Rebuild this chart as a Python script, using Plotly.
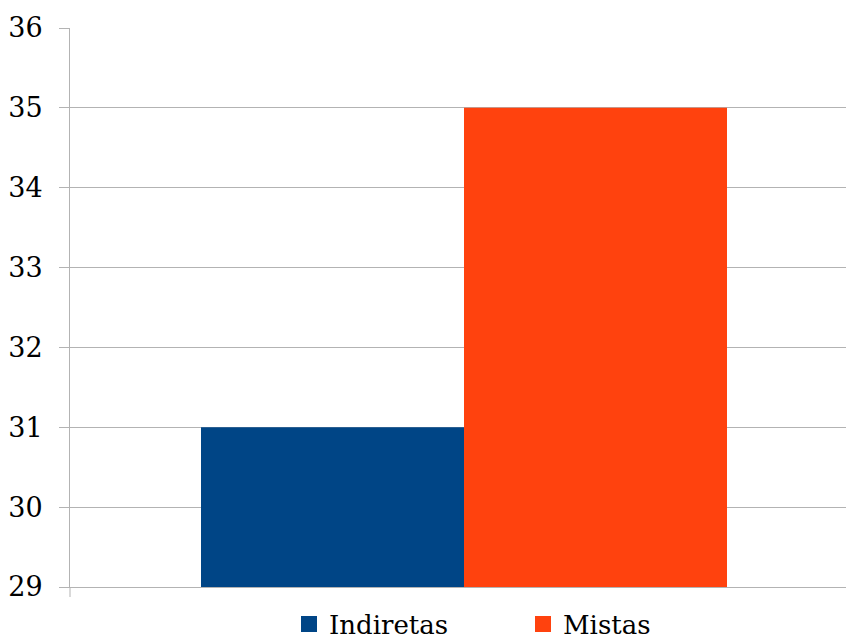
import plotly.graph_objects as go

categories = [""]
series_names = ["Indiretas", "Mistas"]
series_values = [[31], [35]]
colors = ["#004586", "#FF420E"]
y_ticks = [29, 30, 31, 32, 33, 34, 35, 36]

FONT = "DejaVu Serif"

fig = go.Figure()
for name, vals, c in zip(series_names, series_values, colors):
    fig.add_trace(go.Bar(x=[0], y=vals, name=name, marker=dict(color=c, line=dict(width=0)),
                         showlegend=False, legendgroup=name))
    fig.add_trace(go.Scatter(x=[None], y=[None], mode="markers", name=name, legendgroup=name,
                             marker=dict(symbol="square", size=16, color=c, line=dict(width=0))))

fig.update_layout(
    width=846, height=639,
    margin=dict(l=70, r=0, t=28, b=52, autoexpand=False),
    paper_bgcolor="white", plot_bgcolor="white",
    barmode="group", bargap=0.2, bargroupgap=0,
    font=dict(family=FONT, size=27, color="black"),
    showlegend=True,
    legend=dict(orientation="h", x=(289 - 70) / 776, xanchor="left", y=-(624 - 587) / 559,
                yanchor="middle", entrywidth=189, entrywidthmode="pixels", itemsizing="trace",
                font=dict(family=FONT, size=26), itemclick=False, tracegroupgap=0),
)
fig.update_xaxes(range=[-394/657.5, 382/657.5], showticklabels=False, showgrid=False,
                 zeroline=False, showline=True, linecolor="#b3b3b3", linewidth=1,
                 automargin=False)
fig.update_yaxes(range=[29, 36], tickvals=y_ticks, showgrid=True, gridcolor="#b3b3b3",
                 gridwidth=1, zeroline=False, showline=True, linecolor="#b3b3b3",
                 ticks="outside", ticklen=10, tickcolor="#b3b3b3", ticklabelstandoff=11,
                 automargin=False, tickfont=dict(family=FONT, size=27))
fig.add_shape(type="line", xref="paper", yref="paper", x0=0, x1=0, y0=0, y1=-10/559,
              line=dict(color="#b3b3b3", width=1))
fig.write_html("out.html", config={"displayModeBar": False},
               post_script="document.body.style.margin='0';document.body.style.overflow='hidden';")
